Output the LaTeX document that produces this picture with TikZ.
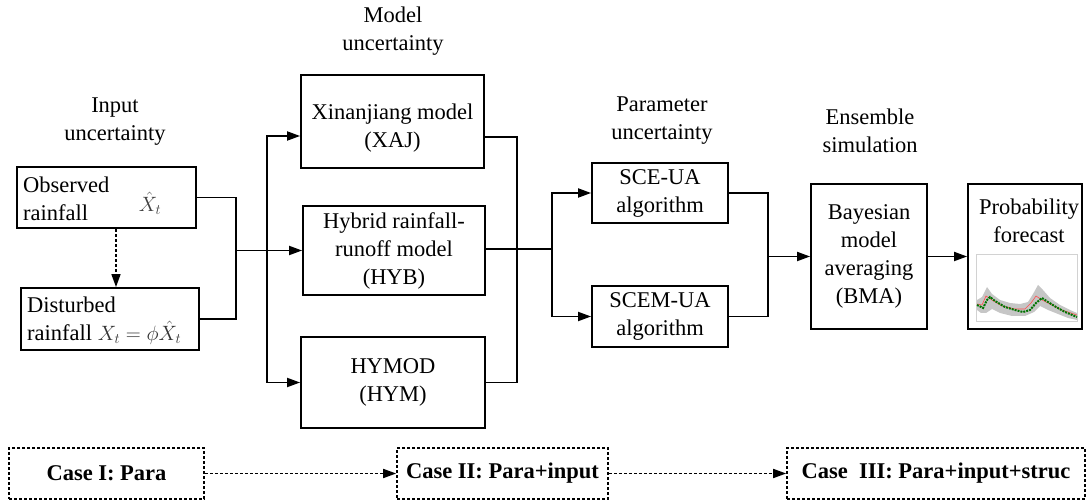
\documentclass[tikz,border=0pt]{standalone}
\usepackage{fontspec}
\setmainfont{Liberation Serif}
\usetikzlibrary{arrows.meta,calc}
\newcommand\myfs{\fontsize{22.5}{28}\selectfont}
\begin{document}
\begin{tikzpicture}[x=1pt,y=-1pt,
  box/.style={draw, line width=1.8pt, inner sep=0pt, align=center, font=\myfs},
  txt/.style={inner sep=0pt, font=\myfs},
  lab/.style={inner sep=0pt, align=center, font=\myfs},
  conn/.style={line width=1.8pt},
  arr/.style={line width=1.8pt, -{Triangle[length=13pt,width=9pt]}},
  darr/.style={line width=1.6pt, dash pattern=on 3pt off 2pt, -{Triangle[length=13pt,width=9pt]}},
  casebox/.style={draw, line width=1.6pt, dash pattern=on 3pt off 2pt, inner sep=0pt, font=\myfs\bfseries}]
\useasboundingbox (0,0) rectangle (1089,502);

% labels
\node[lab] (inl) at (115,122) {Input\\uncertainty};
\node[lab] (modl) at (393,31) {Model\\uncertainty};
\node[lab] (parl) at (662,121) {Parameter\\uncertainty};
\node[lab] (ensl) at (870,131) {Ensemble\\simulation};

% input boxes
\node[box, minimum width=179pt, minimum height=61pt] (obs) at (106.5,197.5) {};
\node[txt, anchor=west, align=left] (obst) at (23,199) {Observed\\rainfall};
\node[txt, text=black!75] (obsm) at (150,203) {$\hat{X}_t$};
\node[box, minimum width=178pt, minimum height=62pt] (dist) at (110,319) {};
\node[txt, anchor=west, align=left] (distt) at (27,321) {Disturbed\\rainfall {\color{black!80}$X_t=\phi\hat{X}_t$}};
\coordinate (dd) at (116,250);
\draw[darr] (dd |- obs.south) -- (dd |- dist.north);

% model boxes
\node[box, minimum width=183pt, minimum height=93pt] (xaj) at (392.5,121.5) {};
\node[lab] (xajt) at (392.5,128) {Xinanjiang model\\(XAJ)};
\node[box, minimum width=182pt, minimum height=89pt] (hyb) at (394,250.5) {Hybrid rainfall-\\runoff model\\(HYB)};
\node[box, minimum width=184pt, minimum height=91pt] (hym) at (393,382.5) {HYMOD\\(HYM)};

% input -> models
\coordinate (j1) at (236,250.5);
\draw[conn] (obs.east) -- (obs.east -| j1) -- (dist.east -| j1) -- (dist.east);
\draw[arr] (j1) -- (hyb.west);
\coordinate (b1t) at (267,136);
\draw[line width=1.8pt, {Triangle[length=13pt,width=9pt]}-{Triangle[length=13pt,width=9pt]}]
  (b1t -| xaj.west) -- (b1t) -- (b1t |- hym.west) -- (hym.west);

% models -> parameter
\coordinate (r1t) at (517,137);
\draw[conn] (r1t -| xaj.east) -- (r1t) -- (r1t |- hym.east) -- (hym.east);
\coordinate (b2) at (552,249);
\draw[conn] (b2 -| hyb.east) -- (b2);

\node[box, minimum width=136pt, minimum height=60pt] (sce) at (660,193) {SCE-UA\\algorithm};
\node[box, minimum width=136pt, minimum height=61pt] (scem) at (660,316.5) {SCEM-UA\\algorithm};
\draw[line width=1.8pt, {Triangle[length=13pt,width=9pt]}-{Triangle[length=13pt,width=9pt]}]
  (sce.west) -- (sce.west -| b2) -- (scem.west -| b2) -- (scem.west);

% parameter -> BMA
\node[box, minimum width=116pt, minimum height=145pt] (bma) at (869,256.5) {Bayesian\\model\\averaging\\(BMA)};
\coordinate (b3) at (768,256.5);
\draw[conn] (sce.east) -- (sce.east -| b3) -- (scem.east -| b3) -- (scem.east);
\draw[arr] (b3) -- (bma.west);

% probability forecast
\node[box, minimum width=114pt, minimum height=145pt] (prob) at (1025,256.5) {};
\node[txt, align=center] (probt) at (1029,221) {Probability\\forecast};
\draw[arr] (bma.east) -- (prob.west);
% small chart
\draw[gray!35, line width=1pt] (976,255) rectangle (1077,322);
\fill[gray!45] (977,300) -- (982,297) -- (987,287) -- (992,294) -- (1000,300) -- (1010,303) -- (1020,304) -- (1028,302) -- (1033,294) -- (1038,285) -- (1043,290) -- (1050,298) -- (1060,305) -- (1070,310) -- (1077,313)
  -- (1077,320) -- (1068,318) -- (1058,314) -- (1048,310) -- (1040,306) -- (1034,312) -- (1025,316) -- (1012,316) -- (1000,313) -- (992,309) -- (986,313) -- (981,313) -- (977,310) -- cycle;
\draw[red!70, line width=0.6pt] (977,304) -- (982,305) -- (986,296) -- (992,300) -- (1002,306) -- (1015,309) -- (1025,309) -- (1031,303) -- (1036,296) -- (1042,300) -- (1052,305) -- (1062,310) -- (1077,315);
\draw[green!45!black, line width=2pt, dash pattern=on 2pt off 1pt] (977,305) -- (983,308) -- (987,300) -- (990,297) -- (995,301) -- (1005,307) -- (1015,310) -- (1023,312) -- (1030,310) -- (1036,303) -- (1042,298) -- (1048,302) -- (1056,307) -- (1065,312) -- (1077,317);

% cases
\node[casebox, minimum width=195pt, minimum height=51pt] (c1) at (106.5,473.5) {Case I: Para};
\node[casebox, minimum width=211pt, minimum height=51pt] (c2) at (502.5,473.5) {Case II: Para+input};
\node[casebox, minimum width=298pt, minimum height=51pt] (c3) at (936,473.5) {Case~~III: Para+input+struc};
\draw[darr] (c1.east) -- (c2.west);
\draw[darr] (c2.east) -- (c3.west);
\end{tikzpicture}
\end{document}
